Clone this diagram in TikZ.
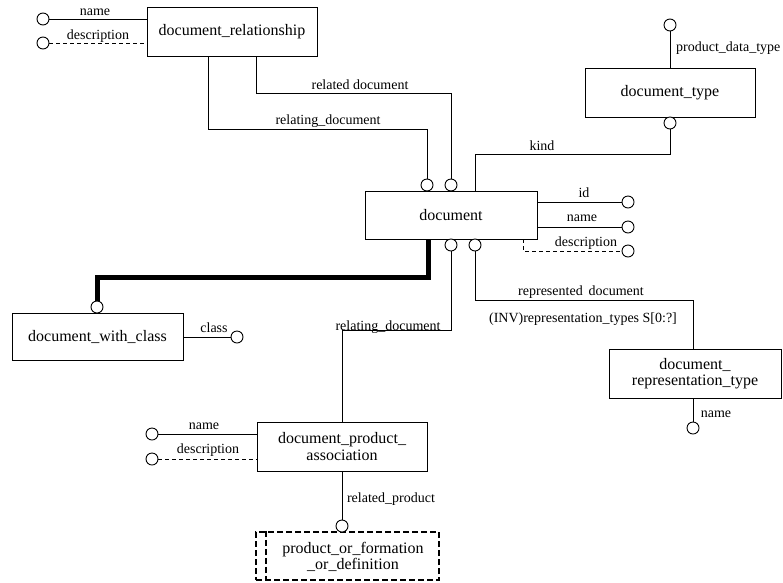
\documentclass[tikz,border=0pt]{standalone}
\usepackage{fontspec}
\setmainfont{Liberation Serif}
\begin{document}
\begin{tikzpicture}[x=1pt,y=-1pt,
 ent/.style={draw, line width=0.9pt, rectangle, font=\fontsize{16}{16.5}\selectfont, align=center, inner sep=0pt},
 att/.style={draw, circle, minimum size=12pt, inner sep=0pt, line width=0.9pt, fill=white},
 lbl/.style={font=\fontsize{14}{15}\selectfont, inner sep=0pt},
 con/.style={line width=0.9pt},
 opt/.style={line width=0.9pt, dash pattern=on 4pt off 3pt},
 ref/.style={line width=2.5pt, dash pattern=on 6pt off 3pt}]
\useasboundingbox (0,0) rectangle (783,582);
% entities
\node[ent, minimum width=170pt, minimum height=49pt] (dr) at (232,31.5) {document\_relationship};
\node[ent, minimum width=170pt, minimum height=49pt] (dt) at (670,92.5) {document\_type};
\node[ent, minimum width=172pt, minimum height=48pt] (doc) at (451,215) {document};
\node[ent, minimum width=171pt, minimum height=47pt] (dwc) at (97.5,336.5) {document\_with\_class};
\node[ent, minimum width=170pt, minimum height=49pt] (dpa) at (342,446.5) {document\_product\_\\association};
\node[ent, minimum width=172pt, minimum height=49pt] (drt) at (695,373.5) {document\_\\representation\_type};
\node[ent, ref, minimum width=183pt, minimum height=48pt] (pod) at (347.5,556) {};
\node[ent, draw=none] (podt) at (353,557) {product\_or\_formation\\\_or\_definition};
\draw[ref] ([xshift=11pt]pod.north west) -- ([xshift=11pt]pod.south west);
% attribute circles
\node[att] (cdrn) at (43,19) {};
\node[att] (cdrd) at (43,43) {};
\node[att] (cdt1) at (427,185) {};
\node[att] (cdt2) at (451,185) {};
\node[att] (ctt) at (670,25) {};
\node[att] (ctb) at (670,123) {};
\node[att] (cid) at (628,202) {};
\node[att] (cnm) at (628,227) {};
\node[att] (cds) at (628,251) {};
\node[att] (cdb1) at (451,245) {};
\node[att] (cdb2) at (475,245) {};
\node[att] (cwc) at (97,307) {};
\node[att] (ccl) at (237,337) {};
\node[att] (cpn) at (152,434) {};
\node[att] (cpd) at (152,459) {};
\node[att] (cpr) at (342,526) {};
\node[att] (cdn) at (693,428) {};
% junctions
\coordinate (j1) at (208,129);
\coordinate (j2) at (256,93);
\coordinate (j3) at (475,154);
\coordinate (j4) at (523,251);
\coordinate (j5) at (428,277);
\coordinate (j6) at (342,330);
\coordinate (j7) at (693,300);
% connectors
\draw[con] (cdrn.east) -- (cdrn.east -| dr.west);
\draw[opt] (cdrd.east) -- (cdrd.east -| dr.west);
\draw[con] (dr.south -| j1) -- (j1) -| (cdt1.north);
\draw[con] (dr.south -| j2) -- (j2) -| (cdt2.north);
\draw[con] (doc.north -| j3) -- (j3) -| (ctb.south);
\draw[con] (ctt.south) -- (dt.north);
\draw[con] (doc.east |- cid) -- (cid.west);
\draw[con] (doc.east |- cnm) -- (cnm.west);
\draw[opt] (doc.south -| j4) -- (j4) -- (cds.west);
\draw[line width=5pt] (doc.south -| j5) -- (j5) -| (cwc.north);
\draw[con] (dwc.east |- ccl) -- (ccl.west);
\draw[con] (cdb1.south) |- (j6) -- (dpa.north -| j6);
\draw[con] (cpn.east) -- (cpn.east -| dpa.west);
\draw[opt] (cpd.east) -- (cpd.east -| dpa.west);
\draw[con] (dpa.south -| cpr) -- (cpr.north);
\draw[con] (cdb2.south) |- (j7) -- (drt.north -| j7);
\draw[con] (drt.south -| cdn) -- (cdn.north);
% labels
\node[lbl] (l1) at (95,12) {name};
\node[lbl] (l2) at (98,36) {description};
\node[lbl] (l3) at (360,85) {related document};
\node[lbl] (l4) at (328,121) {relating\_document};
\node[lbl] (l5) at (542,146) {kind};
\node[lbl, anchor=west] (l6) at (676,48) {product\_data\_type};
\node[lbl] (l7) at (584,193) {id};
\node[lbl] (l8) at (582,218) {name};
\node[lbl] (l9) at (586,243) {description};
\node[lbl] (l10) at (581,292) {represented\, document};
\node[lbl] (l11) at (583,319) {(INV)representation\_types S[0:?]};
\node[lbl] (l12) at (214,328) {class};
\node[lbl] (l13) at (388,327) {relating\_document};
\node[lbl] (l14) at (204,426) {name};
\node[lbl] (l15) at (208,450) {description};
\node[lbl] (l16) at (391,499) {related\_product};
\node[lbl] (l17) at (716,414) {name};
\end{tikzpicture}
\end{document}
